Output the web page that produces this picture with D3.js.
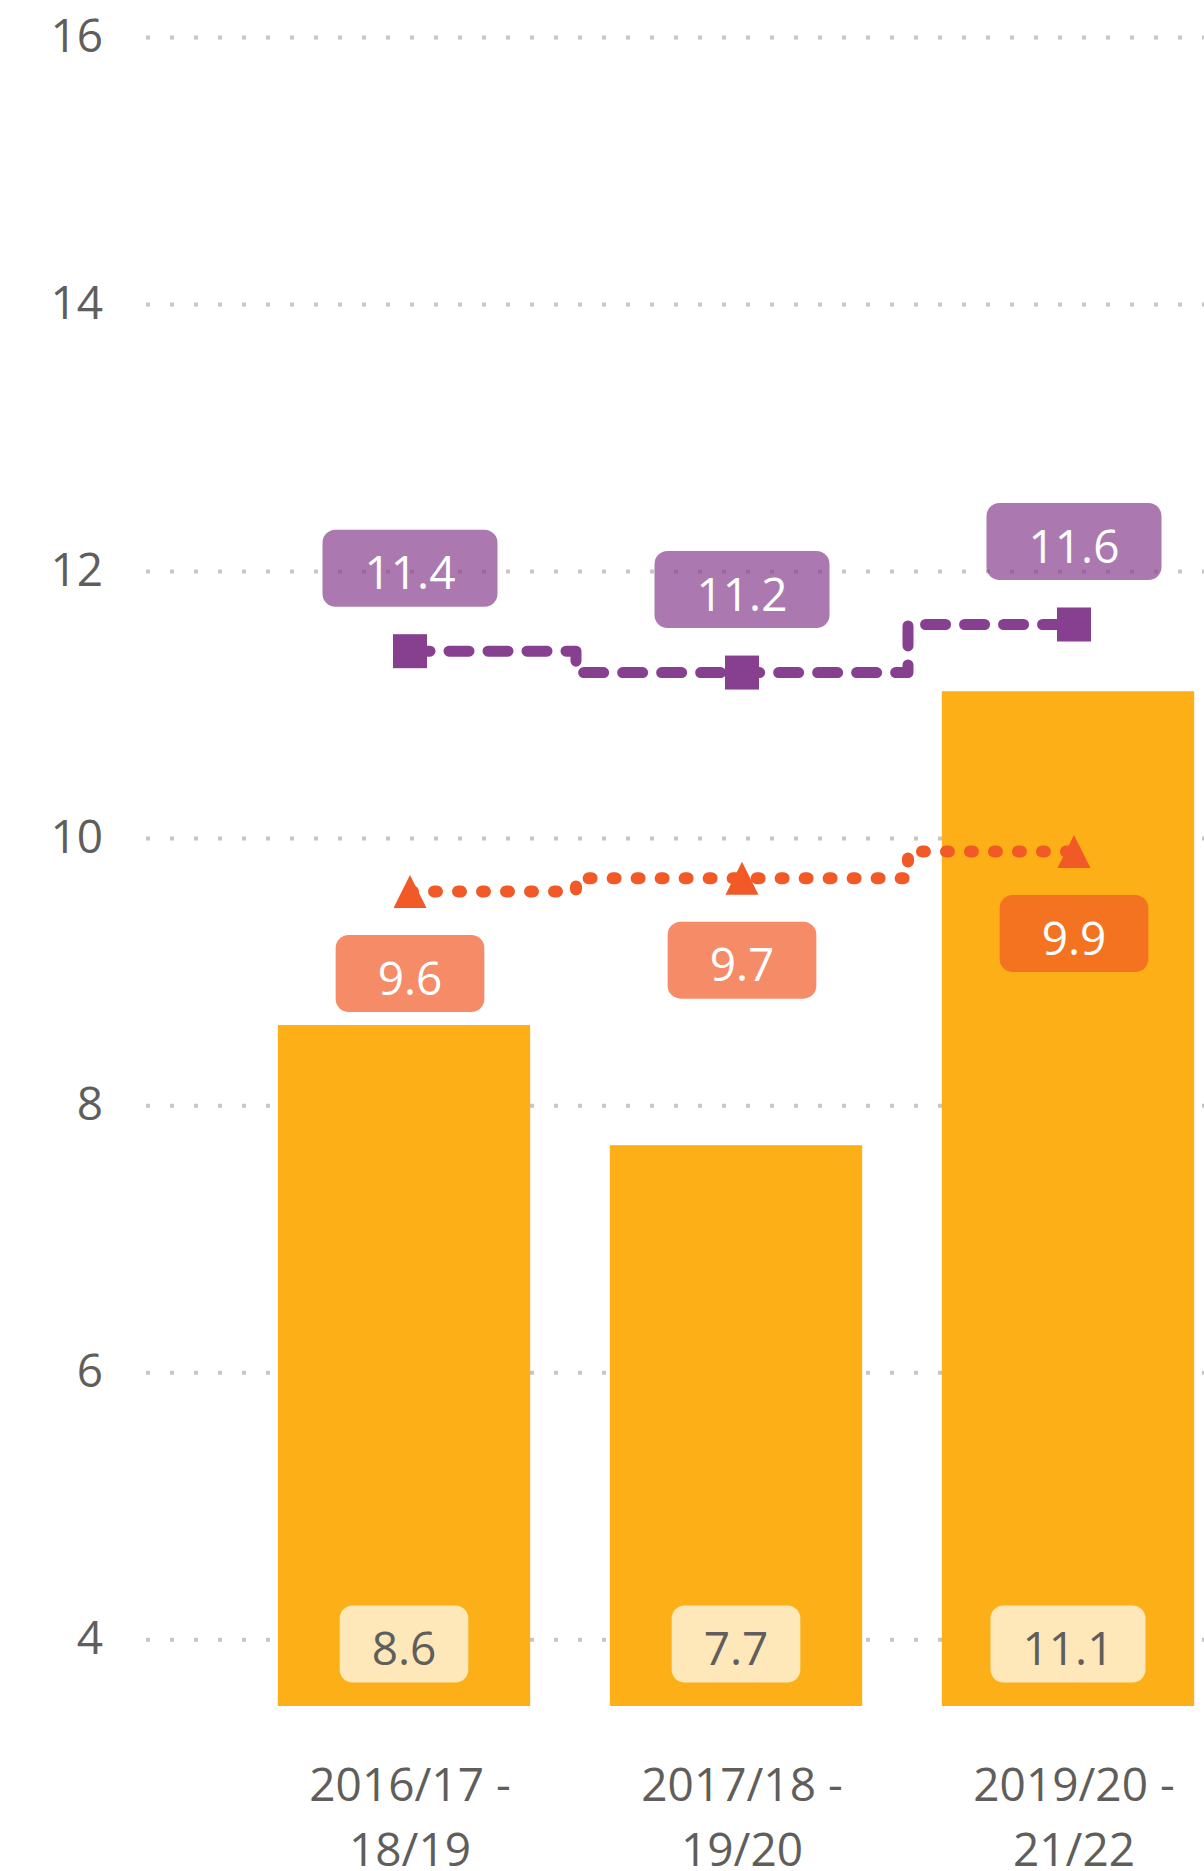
<!DOCTYPE html>
<html lang="en">
<head>
  <meta charset="UTF-8" />
  <script src="https://d3js.org/d3.v7.min.js"></script>
  <title>Bars and lines</title>
  <style>
    body { margin: 0; background: #fff; }
    text { font-family: "Segoe UI", "Open Sans", sans-serif; }
  </style>
</head>
<body>
<script type="text/javascript">
	var categories = ["2016/17 - 18/19", "2017/18 - 19/20", "2019/20 - 21/22"];
	var categoryLines = [["2016/17 -", "18/19"], ["2017/18 -", "19/20"], ["2019/20 -", "21/22"]];
	var barValues = [8.6, 7.7, 11.1];
	var squareValues = [11.4, 11.24, 11.6];
	var triangleValues = [9.6, 9.7, 9.9];
	var yTicks = [4, 6, 8, 10, 12, 14, 16];

	var width = 1204; var height = 1871;
	var barColor = "#fcaf17", purple = "#87408f", orange = "#f15a27", textGray = "#605e5c";
	var svg = d3.select("body").append("svg").attr("width", width).attr("height", height);

	var x = d3.scaleBand().domain(categories).range([238, 1234]).paddingInner(0.24).paddingOuter(0.12);
	var y = d3.scaleLinear().domain([3.5, 16]).range([1706, 37]);
	var cx = function(i){ return x(categories[i]) + x.bandwidth() / 2; };
	var lx = function(i){ return cx(i) + 6; };

	// dotted gridlines + y labels
	var yAxis = svg.append("g").attr("transform", "translate(146,0)")
		.call(d3.axisLeft(y).tickValues(yTicks).tickSize(-(width - 146)).tickPadding(43));
	yAxis.select(".domain").remove();
	yAxis.selectAll("line").attr("stroke", "#c8c6c4").attr("stroke-width", 4).attr("stroke-dasharray", "4,20");
	yAxis.selectAll("text").attr("fill", textGray).attr("font-size", 46).attr("font-family", "'Segoe UI','Open Sans',sans-serif");

	// bars
	svg.selectAll("rect.bar").data(barValues).enter().append("rect").attr("class", "bar")
		.attr("x", function(d, i){ return x(categories[i]); })
		.attr("y", function(d){ return y(d); })
		.attr("width", x.bandwidth())
		.attr("height", function(d){ return y(3.5) - y(d); })
		.attr("fill", barColor);

	function addLabel(gx, gy, txt, bg, bgOpacity, fg, pad)
	{
		var g = svg.append("g").attr("transform", "translate(" + gx + "," + gy + ")");
		var r = g.append("rect");
		var t = g.append("text").attr("text-anchor", "middle").attr("y", 5).attr("dy", "0.35em")
			.attr("font-size", 46).attr("fill", fg).text(txt);
		var w = t.node().getComputedTextLength() + pad * 2;
		r.attr("x", -w / 2).attr("y", -38.5).attr("width", w).attr("height", 77).attr("rx", 13)
			.attr("fill", bg).attr("fill-opacity", bgOpacity);
	}

	// bar labels
	barValues.forEach(function(d, i){ addLabel(cx(i), y(3.5) - 62, d.toFixed(1), "#fff", 0.7, textGray, 32); });

	// lines
	var stepLine = function(vals){
		return d3.line().curve(d3.curveStep).x(function(d, i){ return lx(i); }).y(function(d){ return y(d); })(vals);
	};
	svg.append("path").attr("d", stepLine(squareValues)).attr("fill", "none").attr("stroke", purple)
		.attr("stroke-width", 11).attr("stroke-linecap", "round").attr("stroke-linejoin", "round").attr("stroke-dasharray", "20,19");
	svg.append("path").attr("d", stepLine(triangleValues)).attr("fill", "none").attr("stroke", orange)
		.attr("stroke-width", 12).attr("stroke-linecap", "round").attr("stroke-dasharray", "3,21");

	// markers
	svg.selectAll("rect.sq").data(squareValues).enter().append("rect").attr("class", "sq")
		.attr("x", function(d, i){ return lx(i) - 17; }).attr("y", function(d){ return y(d) - 17; })
		.attr("width", 34).attr("height", 34).attr("fill", purple);
	svg.selectAll("path.tri").data(triangleValues).enter().append("path").attr("class", "tri")
		.attr("transform", function(d, i){ return "translate(" + lx(i) + "," + y(d) + ")"; })
		.attr("d", "M0,-16.5L16.5,16.5L-16.5,16.5Z").attr("fill", orange);

	// line labels
	squareValues.forEach(function(d, i){ addLabel(lx(i), y(d) - 83, d.toFixed(1), purple, 0.7, "#fff", 42); });
	triangleValues.forEach(function(d, i){ addLabel(lx(i), y(d) + 82, d.toFixed(1), orange, 0.7, "#fff", 42); });

	// x labels
	categoryLines.forEach(function(lines, i){
		lines.forEach(function(s, k){
			svg.append("text").attr("x", lx(i)).attr("y", 1801 + k * 65).attr("text-anchor", "middle")
				.attr("font-size", 46).attr("fill", textGray).text(s);
		});
	});
</script>
</body>
</html>
